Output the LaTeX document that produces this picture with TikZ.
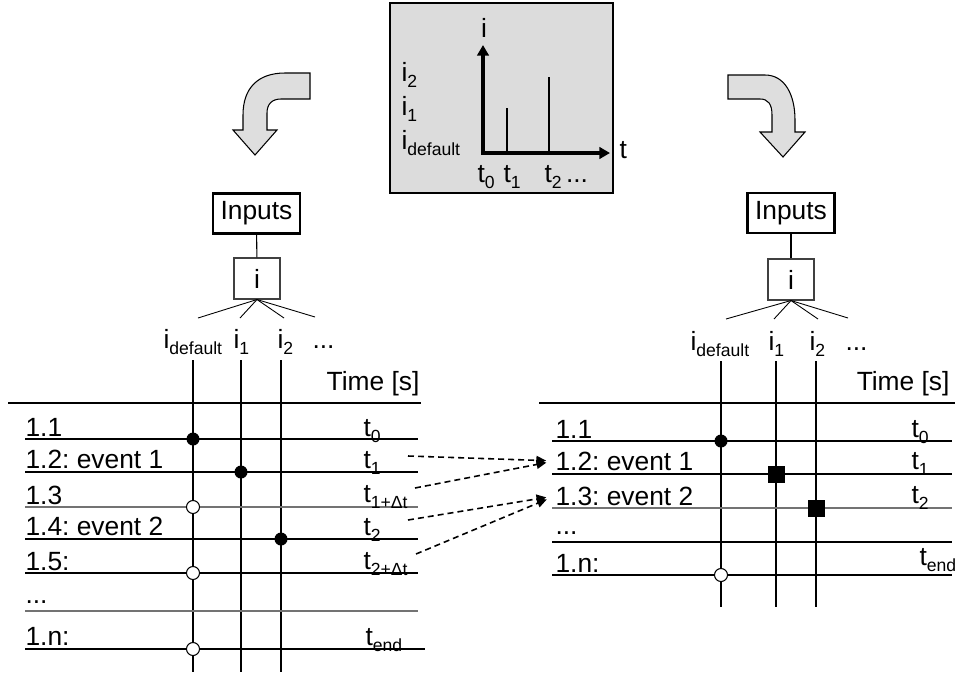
\documentclass[tikz,border=0pt]{standalone}
\usepackage{fontspec}
\setmainfont{Liberation Sans}
\usepackage{xcolor}
\usetikzlibrary{arrows.meta, positioning}
\definecolor{boxgray}{HTML}{DCDCDC}
\definecolor{arrgray}{HTML}{DEDEDE}
\frenchspacing
\newcommand{\subtxt}[1]{\raisebox{-3.6pt}{\fontsize{10}{12}\selectfont #1}}
\tikzset{
  txt/.style={font=\fontsize{15}{18}\selectfont, inner sep=0pt},
  plotbox/.style={draw, fill=boxgray, line width=0.7pt},
  inbox/.style={draw, line width=1.2pt, font=\fontsize{15}{18}\selectfont, minimum width=1.74cm, minimum height=0.8cm, inner sep=1pt},
  ibox/.style={draw=black!75, line width=0.6pt, font=\fontsize{15}{18}\selectfont, minimum width=0.92cm, minimum height=0.82cm, inner sep=1pt},
  axis/.style={line width=2.2pt, line join=miter, {Triangle[length=6pt,width=6.5pt]}-{Triangle[length=6pt,width=6.5pt]}},
  bigarrow/.style={draw, fill=arrgray, line width=0.6pt, line join=miter},
  dotf/.style={circle, fill, inner sep=0pt, minimum size=0.26cm},
  doto/.style={circle, draw, fill=white, line width=0.6pt, inner sep=0pt, minimum size=0.26cm},
  sqf/.style={rectangle, fill, inner sep=0pt, minimum size=0.34cm},
  dasharrow/.style={line width=0.9pt, dash pattern=on 3.4pt off 2.3pt, -{Triangle[length=5.6pt,width=5pt]}, shorten >=5pt}
}

\begin{document}
\begin{tikzpicture}[x=0.02cm, y=-0.02cm, line width=0.6pt]
        \useasboundingbox (0,0) rectangle (956,677);
        % Recuadro con el gráfico de la corriente
        \node[plotbox, minimum width=4.46cm, minimum height=3.8cm] (plot) at (501.5,98) {};
        \coordinate (orig) at (483,153);
        \coordinate (itop) at (483,45);
        \coordinate (tmax) at (610,153);
        \draw[axis] (itop) -- (orig) -- (tmax);
        \draw (507,153) -- (507,108);
        \draw (549,153) -- (549,77);
        \node[txt, anchor=base] (pi) at (484,37) {i};
        \node[txt, anchor=base west] (pi2) at (401,81) {i\subtxt{2}};
        \node[txt, anchor=base west] (pi1) at (401,115) {i\subtxt{1}};
        \node[txt, anchor=base west] (pid) at (401,149) {i\subtxt{default}};
        \node[txt, anchor=base west] (pt) at (619,158) {t};
        \node[txt, anchor=base west] (pt0) at (477,182) {t\subtxt{0}};
        \node[txt, anchor=base west] (pt1) at (503,182) {t\subtxt{1}};
        \node[txt, anchor=base west] (pt2) at (544,182) {t\subtxt{2}\,...};

        % Flechas curvas
        \draw[bigarrow] (310,73) -- (285,73) .. controls (258,73) and (243,88) .. (243,115)
            -- (243,130) -- (233,130) -- (255,155) -- (277,130) -- (267,130) -- (267,113)
            .. controls (267,104) and (272,99) .. (281,99) -- (310,99) -- cycle;
        \draw[bigarrow] (728,75) -- (765,75) .. controls (785,75) and (795,95) .. (795,120)
            -- (795,132) -- (805,132) -- (783,157) -- (760,132) -- (772,132) -- (772,115)
            .. controls (772,104) and (768,99) .. (760,99) -- (728,99) -- cycle;

        % Tabla izquierda
        \node[inbox] (inL) at (256.5,213.5) {Inputs};
        \node[ibox] (iL) at (257,278.5) {i};
        \draw (inL) -- (iL);
        \coordinate (fL1) at (198,318);
        \coordinate (fL2) at (240,318);
        \coordinate (fL3) at (284,318);
        \coordinate (fL4) at (315,317);
        \foreach \c in {fL1,fL2,fL3,fL4} {
            \draw[line width=0.5pt] (iL.south) -- (\c);
        }
        \node[txt, anchor=base west] (idL) at (163,348) {i\subtxt{default}};
        \node[txt, anchor=base west] (i1L) at (233,348) {i\subtxt{1}};
        \node[txt, anchor=base west] (i2L) at (277,348) {i\subtxt{2}};
        \node[txt, anchor=base west] (dotsL) at (312,348) {...};
        \node[txt, anchor=base east] (timeL) at (420,390) {Time [s]};
        \foreach \x in {193,241,281} {
            \draw (\x,360) -- (\x,672);
        }
        \draw (8,403) -- (421,403);
        \foreach \y in {439,472,539,573} {
            \draw (25,\y) -- (418,\y);
        }
        \draw[black!55] (25,507) -- (418,507);
        \draw[black!55] (25,611) -- (418,611);
        \draw (25,649) -- (425,649);
        \node[txt, anchor=base west] (rL1) at (25,436) {1.1};
        \node[txt, anchor=base west] (rL2) at (25,468) {1.2: event 1};
        \node[txt, anchor=base west] (rL3) at (25,504) {1.3};
        \node[txt, anchor=base west] (rL4) at (25,535) {1.4: event 2};
        \node[txt, anchor=base west] (rL5) at (25,570) {1.5:};
        \node[txt, anchor=base west] (rL6) at (25,603) {...};
        \node[txt, anchor=base west] (rLn) at (25,645) {1.n:};
        \node[txt, anchor=base west] (tL0) at (363,436) {t\subtxt{0}};
        \node[txt, anchor=base west] (tL1) at (363,468) {t\subtxt{1}};
        \node[txt, anchor=base west] (tL1d) at (363,502) {t\subtxt{1+Δt}};
        \node[txt, anchor=base west] (tL2) at (363,535) {t\subtxt{2}};
        \node[txt, anchor=base west] (tL2d) at (363,569) {t\subtxt{2+Δt}};
        \node[txt, anchor=base west] (tLe) at (365,645) {t\subtxt{end}};
        \node[dotf] (dL1) at (193,439) {};
        \node[dotf] (dL2) at (241,472) {};
        \node[doto] (dL3) at (193,507) {};
        \node[dotf] (dL4) at (281,539) {};
        \node[doto] (dL5) at (193,573) {};
        \node[doto] (dLn) at (193,649) {};

        % Tabla derecha
        \node[inbox] (inR) at (791,213) {Inputs};
        \node[ibox] (iR) at (791,279.5) {i};
        \draw (inR) -- (iR);
        \coordinate (fR1) at (726,319);
        \coordinate (fR2) at (774,319);
        \coordinate (fR3) at (818,319);
        \coordinate (fR4) at (848,318);
        \foreach \c in {fR1,fR2,fR3,fR4} {
            \draw[line width=0.5pt] (iR.south) -- (\c);
        }
        \node[txt, anchor=base west] (idR) at (690,350) {i\subtxt{default}};
        \node[txt, anchor=base west] (i1R) at (768,350) {i\subtxt{1}};
        \node[txt, anchor=base west] (i2R) at (809,350) {i\subtxt{2}};
        \node[txt, anchor=base west] (dotsR) at (845,350) {...};
        \node[txt, anchor=base east] (timeR) at (950,390) {Time [s]};
        \foreach \x in {721,776,816} {
            \draw (\x,361) -- (\x,607);
        }
        \draw (539,403) -- (955,403);
        \foreach \y in {441,474,542,575} {
            \draw (552,\y) -- (952,\y);
        }
        \draw[black!55] (552,508) -- (952,508);
        \node[txt, anchor=base west] (rR1) at (555,438) {1.1};
        \node[txt, anchor=base west] (rR2) at (555,470) {1.2: event 1};
        \node[txt, anchor=base west] (rR3) at (555,505) {1.3: event 2};
        \node[txt, anchor=base west] (rR4) at (555,534) {...};
        \node[txt, anchor=base west] (rRn) at (555,572) {1.n:};
        \node[txt, anchor=base west] (tR0) at (911,437) {t\subtxt{0}};
        \node[txt, anchor=base west] (tR1) at (911,469) {t\subtxt{1}};
        \node[txt, anchor=base west] (tR2) at (911,503) {t\subtxt{2}};
        \node[txt, anchor=base west] (tRe) at (919,565) {t\subtxt{end}};
        \node[dotf] (dR1) at (721,441) {};
        \node[sqf] (sR2) at (776,474) {};
        \node[sqf] (sR3) at (816,508) {};
        \node[doto] (dRn) at (721,575) {};

        % Flechas discontinuas entre las tablas
        \coordinate (s1) at (408,456);
        \coordinate (s2) at (415,488);
        \coordinate (s3) at (408,520);
        \coordinate (s4) at (416,554);
        \draw[dasharrow] (s1) -- (rR2.west);
        \draw[dasharrow] (s2) -- (rR2.west);
        \draw[dasharrow] (s3) -- (rR3.west);
        \draw[dasharrow] (s4) -- (rR3.west);
\end{tikzpicture}
\end{document}
